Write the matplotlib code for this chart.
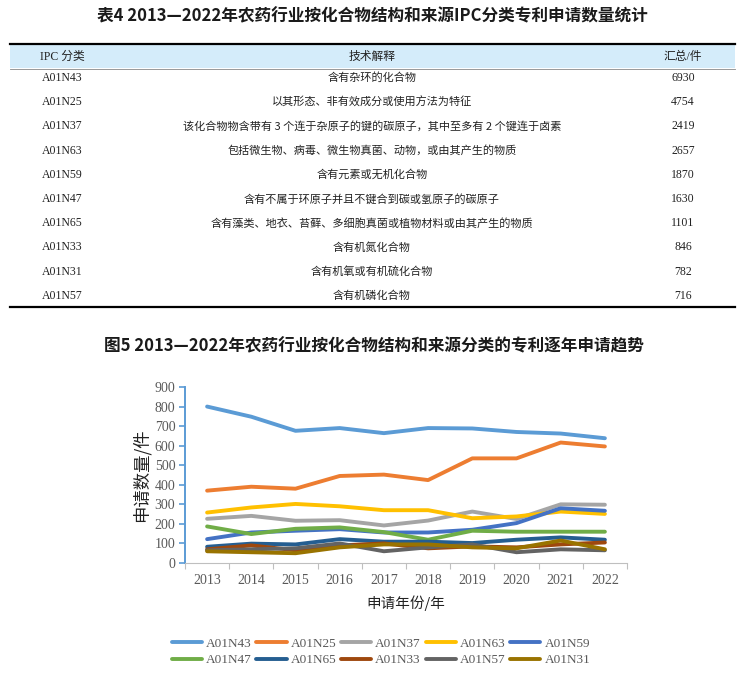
import numpy as np
import matplotlib
matplotlib.use("Agg")
import matplotlib.pyplot as plt

# ---- table data ----
ipc_codes = ["A01N43", "A01N25", "A01N37", "A01N63", "A01N59",
             "A01N47", "A01N65", "A01N33", "A01N31", "A01N57"]
ipc_desc = ["含有杂环的化合物",
            "以其形态、非有效成分或使用方法为特征",
            "该化合物物含带有 3 个连于杂原子的键的碳原子，其中至多有 2 个键连于卤素",
            "包括微生物、病毒、微生物真菌、动物，或由其产生的物质",
            "含有元素或无机化合物",
            "含有不属于环原子并且不键合到碳或氢原子的碳原子",
            "含有藻类、地衣、苔藓、多细胞真菌或植物材料或由其产生的物质",
            "含有机氮化合物",
            "含有机氧或有机硫化合物",
            "含有机磷化合物"]
ipc_total = [6930, 4754, 2419, 2657, 1870, 1630, 1101, 846, 782, 716]
table_header = ["IPC 分类", "技术解释", "汇总/件"]

# ---- chart data ----
years = ["2013", "2014", "2015", "2016", "2017", "2018", "2019", "2020", "2021", "2022"]
series_names = ["A01N43", "A01N25", "A01N37", "A01N63", "A01N59",
                "A01N47", "A01N65", "A01N33", "A01N57", "A01N31"]
a01n43 = [800, 748, 676, 690, 664, 690, 688, 670, 662, 638]
a01n25 = [370, 390, 380, 445, 452, 424, 535, 535, 616, 596]
a01n37 = [226, 241, 216, 219, 192, 217, 263, 225, 300, 298]
a01n63 = [258, 284, 302, 290, 270, 270, 229, 238, 263, 251]
a01n59 = [122, 156, 165, 173, 156, 156, 170, 204, 280, 267]
a01n47 = [187, 148, 175, 182, 158, 119, 165, 160, 160, 160]
a01n65 = [83, 99, 95, 122, 109, 109, 102, 119, 131, 119]
a01n33 = [70, 90, 65, 90, 100, 75, 85, 80, 95, 105]
a01n57 = [65, 70, 75, 100, 60, 80, 95, 55, 70, 65]
a01n31 = [60, 55, 50, 80, 95, 95, 80, 75, 115, 70]
series_values = [a01n43, a01n25, a01n37, a01n63, a01n59,
                 a01n47, a01n65, a01n33, a01n57, a01n31]
colors = ["#5B9BD5", "#ED7D31", "#A5A5A5", "#FFC000", "#4472C4",
          "#70AD47", "#255E91", "#9E480E", "#636363", "#997300"]

CJK = ["Noto Sans CJK SC", "DejaVu Sans"]
SERIF = ["Liberation Serif", "Noto Sans CJK SC"]

W, H = 745, 693
fig = plt.figure(figsize=(W / 100, H / 100), dpi=100)
fig.patch.set_facecolor("white")

# overlay in pixel coordinates for the table
tx = fig.add_axes([0, 0, 1, 1])
tx.set_xlim(0, W)
tx.set_ylim(H, 0)
tx.axis("off")

tx.text(372, 16, "表4 2013—2022年农药行业按化合物结构和来源IPC分类专利申请数量统计",
        ha="center", va="center", fontsize=12, fontweight="bold", family=CJK, color="#1a1a1a")

tx.fill_between([10, 735], 45, 68, color="#D4ECFA", lw=0)
tx.plot([10, 735], [44, 44], color="black", lw=1.6)
tx.plot([10, 735], [68.5, 68.5], color="#888888", lw=0.6)
tx.plot([10, 735], [307, 307], color="black", lw=1.6)

col_x = [62, 372, 683]
for x, h in zip(col_x, table_header):
    tx.text(x, 57, h, ha="center", va="center", fontsize=8.5, family=SERIF, color="#222222")

row_y0, row_dy = 78, 24.2
for i, (c, d, t) in enumerate(zip(ipc_codes, ipc_desc, ipc_total)):
    y = row_y0 + i * row_dy
    tx.text(col_x[0], y, c, ha="center", va="center", fontsize=8.5, family=SERIF, color="#222222")
    tx.text(col_x[1], y, d, ha="center", va="center", fontsize=8, family=CJK, color="#222222")
    tx.text(col_x[2], y, str(t), ha="center", va="center", fontsize=8.5, family=SERIF, color="#222222")

tx.text(374, 346, "图5 2013—2022年农药行业按化合物结构和来源分类的专利逐年申请趋势",
        ha="center", va="center", fontsize=12, fontweight="bold", family=CJK, color="#1a1a1a")

# ---- line chart ----
left, right, top, bottom = 185, 627, 387, 563
ax = fig.add_axes([left / W, (H - bottom) / H, (right - left) / W, (bottom - top) / H])
x = np.arange(len(years))
handles = []
for name, vals, c in zip(series_names, series_values, colors):
    ln, = ax.plot(x, vals, color=c, lw=2.8, solid_capstyle="round", label=name)
    handles.append(ln)

ax.set_xlim(-0.5, len(years) - 0.5)
ax.set_ylim(0, 900)
ax.set_yticks(np.arange(0, 901, 100))
ax.set_xticks(np.arange(-0.5, len(years), 1))
ax.set_xticklabels([])
ax.set_xticks(x, minor=True)
ax.set_xticklabels(years, minor=True, family=SERIF, fontsize=10, color="#595959")
ax.tick_params(axis="x", which="major", length=4, color="#BFBFBF", direction="out")
ax.tick_params(axis="x", which="minor", length=0, pad=8)
ax.tick_params(axis="y", length=4, color="#5B9BD5", width=1.2, direction="out", pad=3)
for lab in ax.get_yticklabels():
    lab.set_family(SERIF)
    lab.set_fontsize(10)
    lab.set_color("#595959")
for s in ["top", "right"]:
    ax.spines[s].set_visible(False)
ax.spines["left"].set_color("#5B9BD5")
ax.spines["left"].set_linewidth(1.4)
ax.spines["bottom"].set_color("#BFBFBF")
ax.set_ylabel("申请数量/件", family=CJK, fontsize=12.5, color="#222222", labelpad=3)
ax.set_xlabel("申请年份/年", family=CJK, fontsize=10.5, color="#222222", labelpad=6)

order = [0, 5, 1, 6, 2, 7, 3, 8, 4, 9]
leg = fig.legend([handles[i] for i in order], [series_names[i] for i in order],
                 ncol=5, loc="center", bbox_to_anchor=(381 / W, 1 - 652 / H),
                 frameon=False, prop={"family": SERIF, "size": 9.5},
                 handlelength=2.3, handletextpad=0.3, columnspacing=0.35,
                 labelspacing=0.3)
for t in leg.get_texts():
    t.set_color("#595959")

fig.savefig("out.png", dpi=100, facecolor="white")
